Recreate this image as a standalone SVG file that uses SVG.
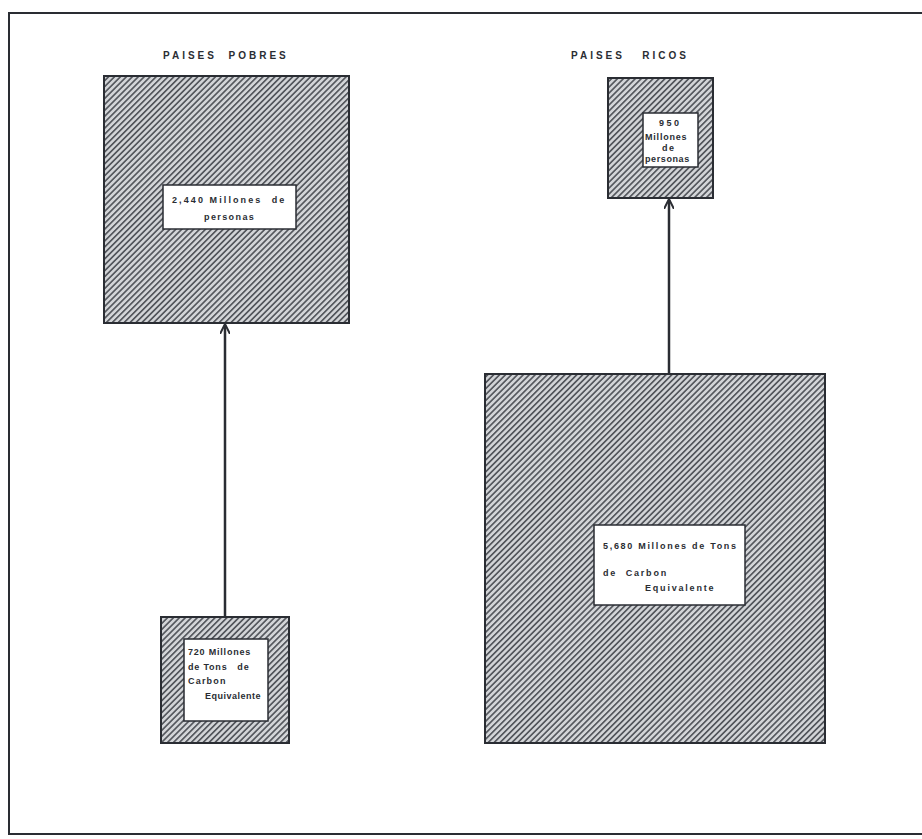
<svg xmlns="http://www.w3.org/2000/svg" width="922" height="839" viewBox="0 0 922 839">
<defs>
<pattern id="hatch" patternUnits="userSpaceOnUse" width="4.2" height="4.2" patternTransform="rotate(45)">
<rect width="4.2" height="4.2" fill="#d3d5d8"/>
<rect x="0" y="0" width="1.7" height="4.2" fill="#55585e"/>
</pattern>
<marker id="arr" viewBox="0 0 10 10" refX="9" refY="5" markerWidth="10" markerHeight="10" markerUnits="userSpaceOnUse" orient="auto">
<path d="M0,0 L10,5 L0,10" fill="none" stroke="#2a2d33" stroke-width="2"/>
</marker>
<style>
.box{fill:url(#hatch);stroke:#2a2d33;stroke-width:2}
.lbl{fill:#fff;stroke:#2a2d33;stroke-width:1.5}
.t{font-family:"Liberation Sans",Arial,sans-serif;font-weight:bold;fill:#2a2d33;white-space:pre}
.h{font-size:10px;letter-spacing:3px}
.s{font-size:9px;letter-spacing:1.5px}
.c{stroke:#2a2d33;stroke-width:2.5;fill:none}
</style>
</defs>
<rect width="922" height="839" fill="#fff"/>
<g id="frame" fill="none" stroke="#2a2d33" stroke-width="2">
<path d="M922,13 L9,13 L9,834 L922,834"/>
</g>
<text class="t h" x="163" y="59">PAISES  POBRES</text>
<text class="t h" x="571" y="59">PAISES   RICOS</text>
<g id="connectors">
<line class="c" x1="225" y1="617" x2="225" y2="325" marker-end="url(#arr)"/>
<line class="c" x1="669" y1="374" x2="669" y2="200" marker-end="url(#arr)"/>
</g>
<g id="pobres-personas">
<rect class="box" x="104" y="76" width="245" height="247"/>
<rect class="lbl" x="163" y="185" width="133" height="44"/>
<text class="t s" x="172" y="203" style="letter-spacing:2.1px">2,440 Millones  de</text>
<text class="t s" x="204" y="220" style="letter-spacing:1.4px">personas</text>
</g>
<g id="ricos-personas">
<rect class="box" x="608" y="78" width="105" height="120"/>
<rect class="lbl" x="643" y="113" width="55" height="54"/>
<text class="t s" x="659" y="126" style="letter-spacing:2.5px">950</text>
<text class="t s" x="645" y="140" style="letter-spacing:0.8px">Millones</text>
<text class="t s" x="662" y="151">de</text>
<text class="t s" x="645" y="162" style="letter-spacing:0.6px">personas</text>
</g>
<g id="pobres-carbon">
<rect class="box" x="161" y="617" width="128" height="126"/>
<rect class="lbl" x="184" y="639" width="84" height="82"/>
<text class="t s" x="188" y="655" style="letter-spacing:0.8px">720 Millones</text>
<text class="t s" x="188" y="670" style="letter-spacing:0.8px">de Tons   de</text>
<text class="t s" x="188" y="684" style="letter-spacing:1.2px">Carbon</text>
<text class="t s" x="205" y="699" style="letter-spacing:0.5px">Equivalente</text>
</g>
<g id="ricos-carbon">
<rect class="box" x="485" y="374" width="340" height="369"/>
<rect class="lbl" x="594" y="525" width="151" height="80"/>
<text class="t s" x="603" y="549" style="letter-spacing:1.7px">5,680 Millones de Tons</text>
<text class="t s" x="603" y="576" style="letter-spacing:1.8px">de  Carbon</text>
<text class="t s" x="645" y="591" style="letter-spacing:1.8px">Equivalente</text>
</g>
</svg>
